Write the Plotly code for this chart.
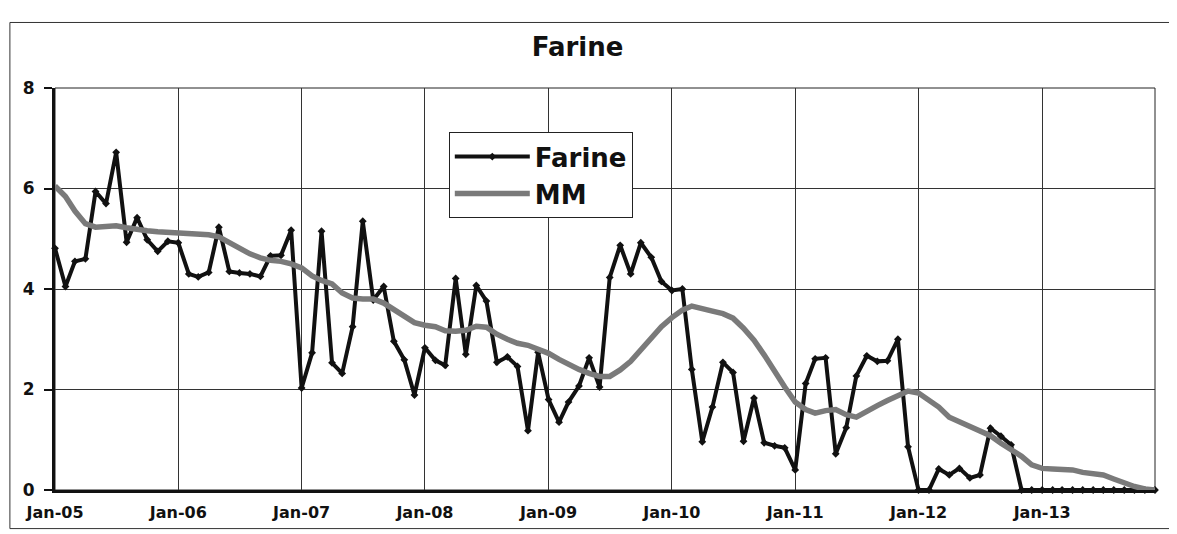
import pandas as pd
import plotly.graph_objects as go

months = pd.date_range("2005-01-01", periods=108, freq="MS")

farine = [
    4.81, 4.05, 4.55, 4.60, 5.94, 5.70, 6.72, 4.93, 5.42, 4.98, 4.75, 4.95,
    4.92, 4.30, 4.24, 4.33, 5.23, 4.35, 4.32, 4.30, 4.25, 4.66, 4.67, 5.17,
    2.03, 2.73, 5.15, 2.53, 2.32, 3.25, 5.35, 3.78, 4.05, 2.96, 2.59, 1.89,
    2.83, 2.58, 2.48, 4.21, 2.70, 4.07, 3.76, 2.54, 2.65, 2.46, 1.18, 2.74,
    1.80, 1.35, 1.75, 2.07, 2.63, 2.05, 4.23, 4.87, 4.30, 4.92, 4.63, 4.15,
    3.97, 4.00, 2.40, 0.96, 1.65, 2.54, 2.34, 0.97, 1.83, 0.94, 0.88, 0.84,
    0.40, 2.12, 2.61, 2.63, 0.72, 1.24, 2.27, 2.67, 2.56, 2.57, 3.00, 0.86,
    0.00, 0.00, 0.42, 0.30, 0.43, 0.24, 0.30, 1.23, 1.07, 0.90, 0.00, 0.00,
    0.00, 0.00, 0.00, 0.00, 0.00, 0.00, 0.00, 0.00, 0.00, 0.00, 0.00, 0.00,
]

mm = [
    6.05, 5.84, 5.55, 5.30, 5.23, 5.24, 5.26, 5.22, 5.18, 5.16, 5.14, 5.13,
    5.12, 5.11, 5.10, 5.08, 5.04, 4.92, 4.80, 4.70, 4.62, 4.57, 4.55, 4.50,
    4.42, 4.26, 4.17, 4.10, 3.92, 3.82, 3.80, 3.80, 3.72, 3.60, 3.45, 3.33,
    3.28, 3.25, 3.17, 3.16, 3.18, 3.26, 3.24, 3.10, 3.00, 2.92, 2.88, 2.80,
    2.72, 2.60, 2.50, 2.40, 2.32, 2.26, 2.26, 2.39, 2.56, 2.78, 3.02, 3.25,
    3.43, 3.58, 3.66, 3.62, 3.56, 3.51, 3.42, 3.22, 2.98, 2.69, 2.35, 2.05,
    1.75, 1.60, 1.53, 1.58, 1.60, 1.50, 1.45, 1.55, 1.68, 1.78, 1.88, 1.97,
    1.93, 1.80, 1.65, 1.45, 1.36, 1.27, 1.18, 1.08, 0.93, 0.80, 0.67, 0.50,
    0.43, 0.42, 0.41, 0.40, 0.35, 0.32, 0.30, 0.22, 0.14, 0.07, 0.02, 0.00,
]

tick_dates = pd.date_range("2005-01-01", periods=9, freq="12MS")
tick_labels = ["Jan-05", "Jan-06", "Jan-07", "Jan-08", "Jan-09",
               "Jan-10", "Jan-11", "Jan-12", "Jan-13"]

# wide bold face, close to the stretched print of the scan
font_family = "DejaVu Sans, Liberation Sans, Arial, sans-serif"

fig = go.Figure()
fig.add_trace(
    go.Scatter(
        x=months, y=farine, name="Farine", mode="lines+markers",
        line=dict(color="#111111", width=4),
        marker=dict(symbol="diamond", size=6, color="#111111"),
        cliponaxis=False,
    )
)
fig.add_trace(
    go.Scatter(
        x=months, y=mm, name="MM", mode="lines",
        line=dict(color="#7a7a7a", width=5.5),
        cliponaxis=False,
    )
)

# thin frame round the plot area and round the whole chart
fig.add_shape(type="rect", xref="paper", yref="paper", x0=0, x1=1, y0=0, y1=1,
              line=dict(color="#222222", width=1), layer="below")
fig.add_shape(type="rect", xref="paper", yref="paper",
              x0=-0.041, x1=1.016, y0=-0.096, y1=1.163,
              line=dict(color="#333333", width=1), layer="below")

# page body adds an 8px offset, so the figure is sized a little smaller
fig.update_layout(
    width=1169, height=526,
    paper_bgcolor="white", plot_bgcolor="white",
    margin=dict(l=47, r=22, t=80, b=41),
    font=dict(family=font_family, color="#111111", weight="bold"),
    title=dict(text="Farine", x=0.475, xref="paper", xanchor="center",
               y=0.926, yanchor="middle", yref="container",
               font=dict(size=26, family=font_family, weight="bold")),
    showlegend=True,
    legend=dict(x=0.358, y=0.89, xanchor="left", yanchor="top",
                bgcolor="white", bordercolor="#222222", borderwidth=1,
                font=dict(size=26, family=font_family, weight="bold"),
                itemwidth=75, tracegroupgap=0),
    xaxis=dict(
        type="date",
        range=[months[0], months[-1]],
        tickvals=tick_dates, ticktext=tick_labels,
        showgrid=True, gridcolor="#333333", gridwidth=1,
        showline=True, linecolor="#111111", linewidth=3,
        ticks="", ticklabelstandoff=6,
        tickfont=dict(size=16, weight="bold"),
        zeroline=False,
    ),
    yaxis=dict(
        range=[0, 8], dtick=2,
        showgrid=True, gridcolor="#333333", gridwidth=1,
        showline=True, linecolor="#111111", linewidth=3,
        ticks="outside", ticklen=8, tickwidth=2, tickcolor="#111111",
        ticklabelstandoff=6,
        tickfont=dict(size=17, weight="bold"),
        zeroline=False,
    ),
)

fig.write_html("out.html")
